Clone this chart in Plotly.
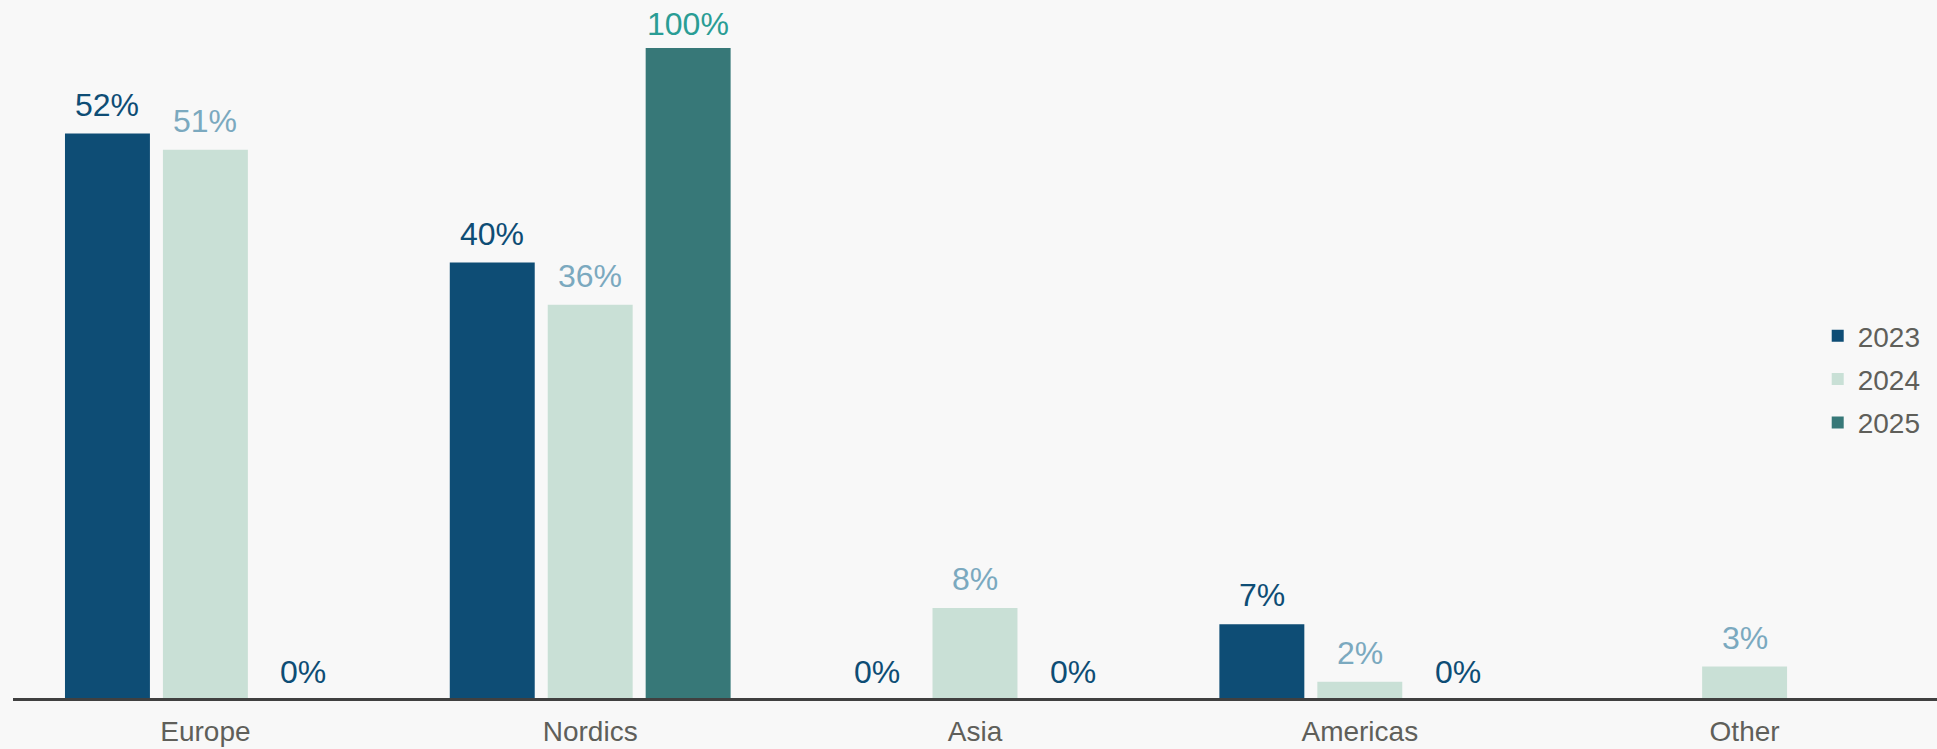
import plotly.graph_objects as go

categories = ["Europe", "Nordics", "Asia", "Americas", "Other"]
years = ["2023", "2024", "2025"]
values_2023 = [52.1, 40.2, 0, 6.8, None]
values_2024 = [50.6, 36.3, 8.3, 1.5, 2.9]
values_2025 = [0, 100, 0, 0, None]
series = [values_2023, values_2024, values_2025]

bar_colors = ["#0E4D75", "#C9E0D6", "#377878"]
label_colors = ["#0E4D75", "#7BA9BF", "#2A9D95"]
zero_label_color = "#0E4D75"
text_gray = "#5F5F5A"
bg = "#F8F8F8"
font_family = "Liberation Sans, Arial, sans-serif"

Y_MAX = 60
BARGAP = 0.2364
BARGROUPGAP = 0.1327

fig = go.Figure()
for name, vals, col in zip(years, series, bar_colors):
    fig.add_trace(go.Bar(
        x=categories, y=vals, name=name, legendgroup=name,
        marker=dict(color=col, line=dict(width=0)),
        hoverinfo="skip",
    ))

slot = (1 - BARGAP) / len(series)
annotations = []
for si, (vals, lc) in enumerate(zip(series, label_colors)):
    for ci, v in enumerate(vals):
        if v is None:
            continue
        if v == 0:
            shift = 6
        elif v > Y_MAX:
            shift = 4
        else:
            shift = 9
        annotations.append(dict(
            x=ci + (si - (len(series) - 1) / 2) * slot,
            y=min(v, Y_MAX),
            xref="x", yref="y",
            text=f"{v:.0f}%",
            showarrow=False,
            yanchor="bottom",
            yshift=shift,
            font=dict(size=32, color=zero_label_color if v == 0 else lc, family=font_family),
        ))

fig.update_layout(
    barmode="group",
    bargap=BARGAP,
    bargroupgap=BARGROUPGAP,
    width=1937, height=749,
    margin=dict(l=13, r=0, t=48, b=51),
    paper_bgcolor=bg, plot_bgcolor=bg,
    font=dict(family=font_family, color=text_gray, size=28),
    annotations=annotations,
    legend=dict(
        x=0.938, xanchor="left", y=0.49, yanchor="middle",
        bgcolor="rgba(0,0,0,0)", font=dict(size=28, color=text_gray),
        traceorder="grouped", tracegroupgap=4,
        itemclick=False,
    ),
    xaxis=dict(
        showline=True, linecolor="#404040", linewidth=3,
        showgrid=False, zeroline=False, ticks="",
        ticklabelstandoff=6,
        tickfont=dict(size=28, color=text_gray),
    ),
    yaxis=dict(
        range=[0, Y_MAX], visible=False, showgrid=False, zeroline=False,
    ),
)

fig.write_html("out.html", config={"displayModeBar": False},
               post_script="document.body.style.margin='0';")
